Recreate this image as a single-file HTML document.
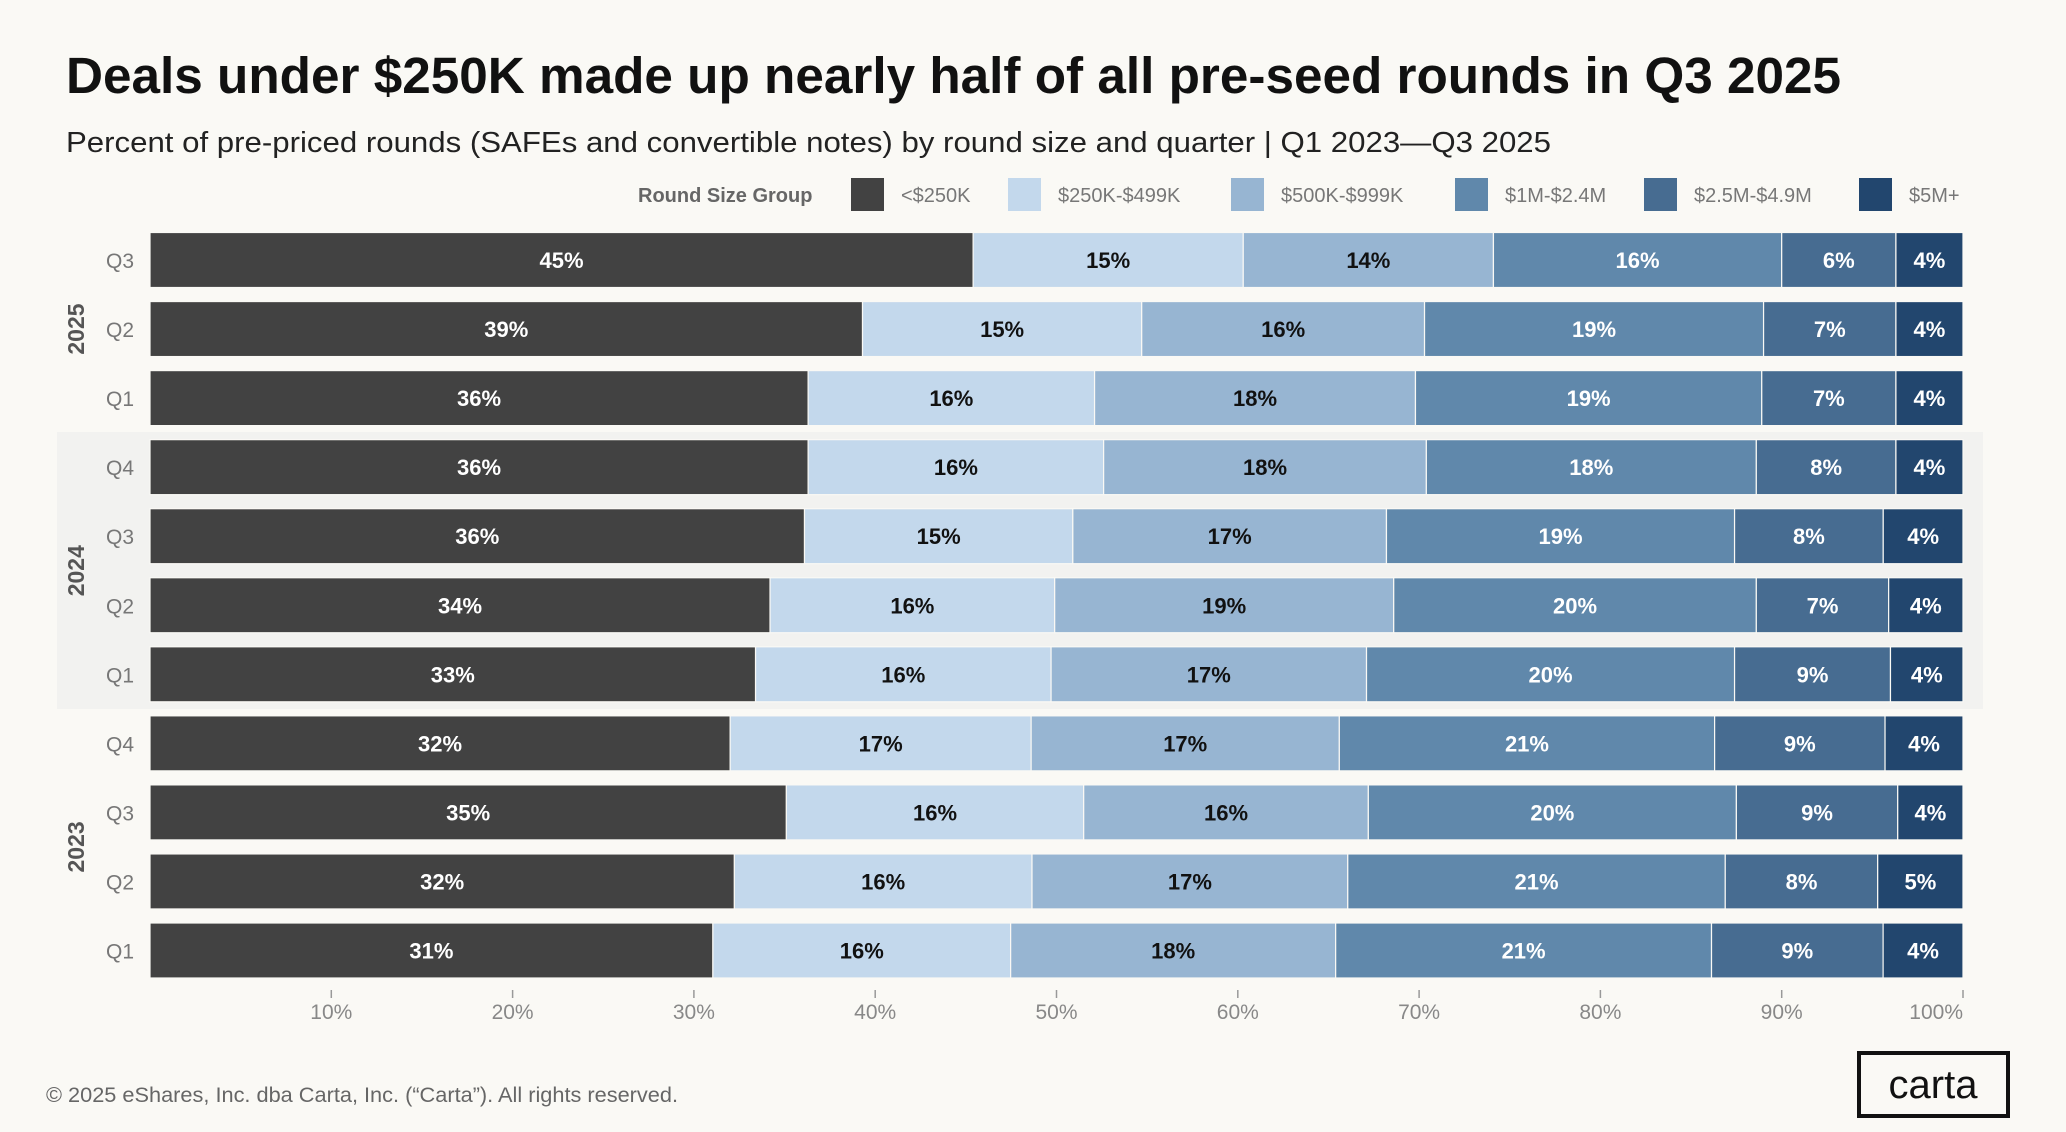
<!DOCTYPE html>
<html><head><meta charset="utf-8"><style>
html,body{margin:0;padding:0;background:#faf9f5;}
svg{display:block;font-family:"Liberation Sans",sans-serif;}
</style></head><body>
<svg id="chart" width="2066" height="1132" viewBox="0 0 2066 1132" xmlns="http://www.w3.org/2000/svg">
<rect x="0" y="0" width="2066" height="1132" fill="#faf9f5"/>
<rect x="57" y="432" width="1926" height="277" fill="#f2f2f0"/>
<text x="66" y="93" font-size="51" font-weight="bold" fill="#111" textLength="1775" lengthAdjust="spacingAndGlyphs">Deals under $250K made up nearly half of all pre-seed rounds in Q3 2025</text>
<text x="66" y="152" font-size="29" fill="#222" textLength="1485" lengthAdjust="spacingAndGlyphs">Percent of pre-priced rounds (SAFEs and convertible notes) by round size and quarter | Q1 2023—Q3 2025</text>
<g id="legend"></g>
<g id="bars"></g>
<g id="axis"></g>
<text x="46" y="1102" font-size="21" fill="#666" textLength="632" lengthAdjust="spacingAndGlyphs">© 2025 eShares, Inc. dba Carta, Inc. (“Carta”). All rights reserved.</text>
<g>
<rect x="1859" y="1053" width="149" height="63" fill="none" stroke="#111" stroke-width="4"/>
<text x="1933" y="1098" font-size="40" text-anchor="middle" fill="#111">carta</text>
</g>
</svg>
<script>
const categories = ["<$250K","$250K-$499K","$500K-$999K","$1M-$2.4M","$2.5M-$4.9M","$5M+"];
const years = ["2025","2024","2023"];
const quarters = ["Q3","Q2","Q1","Q4","Q3","Q2","Q1","Q4","Q3","Q2","Q1"];
const rowYears = ["2025","2025","2025","2024","2024","2024","2024","2023","2023","2023","2023"];
const seriesUnder250K = [45.4,39.3,36.3,36.3,36.1,34.2,33.4,32.0,35.1,32.2,31.0];
const series250to499K = [14.9,15.4,15.8,16.3,14.8,15.7,16.3,16.6,16.4,16.4,16.4];
const series500to999K = [13.8,15.6,17.7,17.8,17.3,18.7,17.4,17.0,15.7,17.4,17.9];
const series1Mto2_4M = [15.9,18.7,19.1,18.2,19.2,20.0,20.3,20.7,20.3,20.8,20.7];
const series2_5Mto4_9M = [6.3,7.3,7.4,7.7,8.2,7.3,8.6,9.4,8.9,8.4,9.45];
const series5Mplus = [3.7,3.7,3.7,3.7,4.4,4.1,4.0,4.3,3.6,4.7,4.4];
const xTicks = [10,20,30,40,50,60,70,80,90,100];
const xTickLabels = ["10%","20%","30%","40%","50%","60%","70%","80%","90%","100%"];

const colors = ["#424242","#c3d8ec","#97b5d2","#6088ab","#476c91","#22466e"];
const textColors = ["#fff","#111","#111","#fff","#fff","#fff"];
const NS = "http://www.w3.org/2000/svg";
const x0 = 150, x1 = 1963, yTop = 260, pitch = 69.05, barH = 55;
const xScale = p => x0 + (x1 - x0) * p / 100;
const yScale = i => yTop + i * pitch;
function mk(tag, attrs, parent){const e=document.createElementNS(NS,tag);for(const k in attrs)e.setAttribute(k,attrs[k]);parent.appendChild(e);return e;}

const series = [seriesUnder250K,series250to499K,series500to999K,series1Mto2_4M,series2_5Mto4_9M,series5Mplus];
const bars = document.getElementById("bars");
quarters.forEach((q,i)=>{
  const cy = yScale(i);
  const total = series.reduce((s,a)=>s+a[i],0);
  let acc = 0;
  const ql = mk("text",{x:134,y:cy+8,"font-size":21,fill:"#777","text-anchor":"end"},bars);
  
  
  ql.textContent = q;
  series.forEach((arr,s)=>{
    const v = arr[i];
    const pa = acc/total*100, pb = (acc+v)/total*100;
    acc += v;
    const r = mk("rect",{x:xScale(pa),y:cy-barH/2,width:xScale(pb)-xScale(pa),height:barH,fill:colors[s],stroke:"#faf9f5","stroke-width":1.2},bars);
    
    
    const t = mk("text",{x:(xScale(pa)+xScale(pb))/2,y:cy+8,"font-size":22,"font-weight":"bold",fill:textColors[s],"text-anchor":"middle"},bars);
    
    
    t.textContent = Math.round(v)+"%";
  });
});
years.forEach(y=>{
  const idx = rowYears.map((r,i)=>r===y?i:-1).filter(i=>i>=0);
  const cy = (yScale(idx[0])+yScale(idx[idx.length-1]))/2;
  const t = mk("text",{x:0,y:0,"font-size":23,"font-weight":"bold",fill:"#555","text-anchor":"middle",transform:`translate(84,${cy}) rotate(-90)`},bars);
  
  
  t.textContent = y;
});

const axis = document.getElementById("axis");
xTicks.forEach((v,i)=>{
  const x = xScale(v);
  const l = mk("line",{x1:x,x2:x,y1:990,y2:998,stroke:"#999","stroke-width":1.5},axis);
  
  
  const t = mk("text",{x:x,y:1019,"font-size":21,fill:"#888","text-anchor":i===xTicks.length-1?"end":"middle"},axis);
  
  
  t.textContent = xTickLabels[i];
});

const legend = document.getElementById("legend");
const lt = mk("text",{x:638,y:202,"font-size":20,"font-weight":"bold",fill:"#666"},legend);


lt.textContent = "Round Size Group";
const swX = [851,1008,1231,1455,1644,1859];
categories.forEach((c,i)=>{
  const g = mk("g",{},legend);
  
  
  mk("rect",{x:swX[i],y:178,width:33,height:33,fill:colors[i]},g);
  const t = mk("text",{x:swX[i]+50,y:202,"font-size":20,fill:"#777"},g);
  t.textContent = c;
});
</script>
</body></html>
